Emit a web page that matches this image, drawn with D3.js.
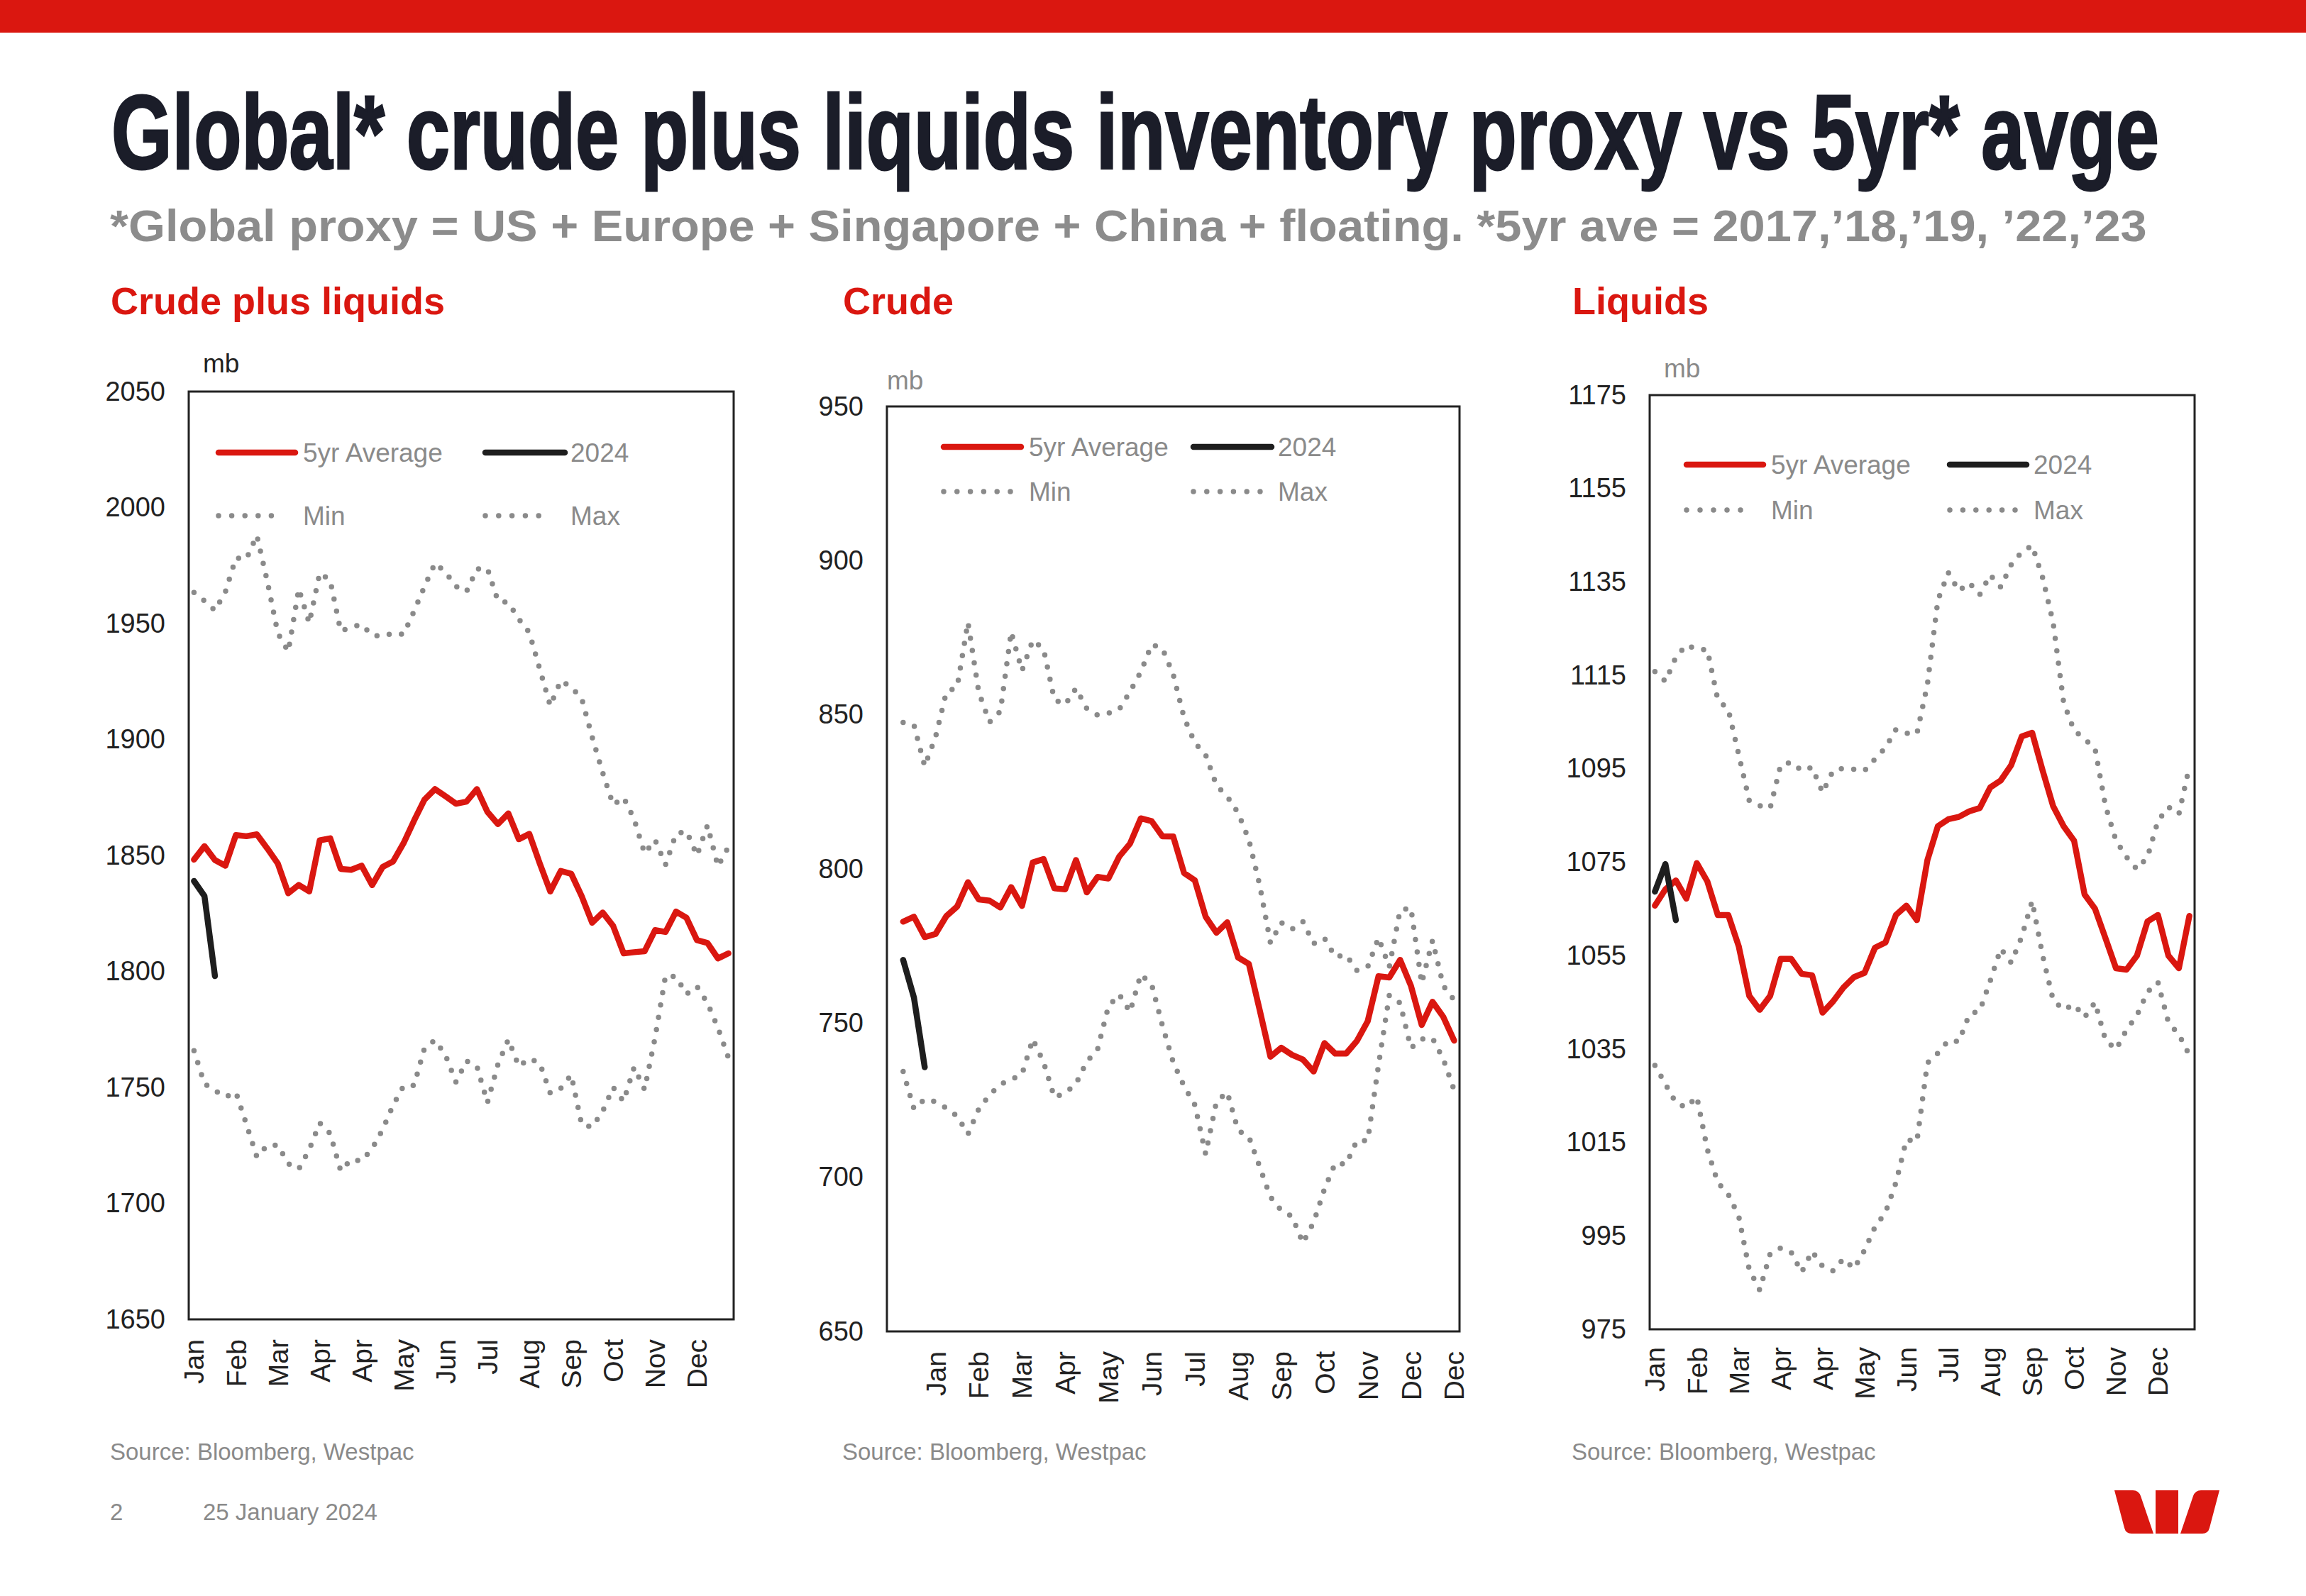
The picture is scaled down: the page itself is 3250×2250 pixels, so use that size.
<!DOCTYPE html>
<html lang="en">
<head>
<meta charset="UTF-8">
<title>Global crude plus liquids inventory proxy vs 5yr avge</title>
<script src="https://cdn.jsdelivr.net/npm/d3@7"></script>
<style>
  body { margin: 0; background: #fff; }
  svg { display: block; font-family: "Liberation Sans", Arial, sans-serif; }
  .line { fill: none; stroke-linejoin: round; stroke-linecap: round; }
</style>
</head>
<body>
<svg id="chart" width="3250" height="2250"></svg>
<script>
// ---- data (mb, weekly) ----
// Crude plus liquids
const totalAvg = [1848.2, 1854, 1848, 1845.6, 1858.8, 1858.3, 1859.1, 1853, 1846.5, 1833.7, 1837.3, 1834.5, 1856.5, 1857.4, 1844.2, 1843.8, 1845.6, 1837.2, 1845, 1847.4, 1855.3, 1865, 1874.1, 1878.6, 1875.5, 1872.3, 1873.2, 1878.6, 1868.8, 1863.5, 1868.1, 1857, 1859.3, 1846.5, 1834.5, 1843.3, 1842.1, 1832.4, 1821, 1825.4, 1819.6, 1807.8, 1808.3, 1808.7, 1817.8, 1817, 1825.8, 1823.1, 1813.5, 1812.3, 1805.6, 1807.8];
const totalMax = [1963.4, 1959.8, 1955.6, 1963.7, 1978.3, 1977.8, 1988, 1968.1, 1945.8, 1937.9, 1964.9, 1950.2, 1971.8, 1968.6, 1946.7, 1948.4, 1949.6, 1944.9, 1944.5, 1945.8, 1945.3, 1955.3, 1966, 1976, 1972.1, 1966, 1963.7, 1973.5, 1973.7, 1959.8, 1959, 1951.9, 1946.1, 1930.3, 1914.5, 1925.4, 1922.6, 1917.7, 1901, 1885.7, 1871.8, 1875, 1865.6, 1850.9, 1856.7, 1846, 1859.3, 1860.5, 1850, 1863, 1845.3, 1853.7];
const totalMin = [1765.8, 1751.6, 1748.6, 1745.9, 1747.9, 1734.1, 1720, 1725, 1725.1, 1717.1, 1714.8, 1723.2, 1734.7, 1730.1, 1714, 1718.9, 1718.3, 1723.6, 1731.8, 1742.3, 1750.6, 1750.9, 1767, 1770.4, 1763.9, 1752.3, 1761.4, 1759.1, 1743.4, 1759.8, 1770.7, 1759.1, 1762.4, 1760.5, 1747.5, 1749.6, 1755.4, 1733.9, 1732.9, 1739.7, 1750, 1744, 1758.7, 1749.1, 1771.4, 1798.2, 1797.7, 1790.2, 1793.5, 1786.4, 1775.7, 1762.8];
const total2024 = [1839, 1832.5, 1798];

// Crude (53 week slots, data starts at slot 1)
const crudeAvg = [782.9, 784.5, 777.9, 778.9, 784.7, 787.8, 795.7, 790.1, 789.7, 787.5, 794.1, 788, 802.1, 803.2, 793.7, 793.4, 802.9, 792.4, 797.4, 796.9, 804, 808.2, 816.4, 815.5, 810.6, 810.5, 798.7, 796.3, 784.5, 779.3, 782.7, 771.3, 769.2, 754.3, 739.1, 742, 739.7, 738.2, 734.3, 743.5, 740.1, 740.1, 744.2, 750.6, 765.2, 764.8, 770.5, 762.1, 749.4, 756.9, 752, 744.3];
const crudeMax = [847.5, 846.7, 833.3, 842.8, 857.3, 859, 880, 857.3, 847.6, 851.1, 876.9, 864.3, 874.2, 871.3, 854.9, 853.3, 858.6, 852, 849.9, 850.5, 851.7, 857.5, 863.9, 872.8, 871.5, 863.1, 849.1, 840.9, 837, 827.1, 823.5, 818.2, 809.5, 794.8, 776, 782.6, 780.5, 782.9, 775.8, 777.5, 771.5, 772.1, 767.1, 768.2, 777.7, 768.2, 786.6, 787.4, 762.9, 776.8, 762.1, 757.5];
const crudeMin = [734.3, 722.2, 725.3, 724.5, 722.4, 719.8, 714, 722.1, 726.7, 730.1, 731.7, 733.4, 744.8, 737.3, 725.9, 727.3, 730.3, 737.5, 741.5, 755.4, 759.3, 753.6, 765.8, 762.6, 749.2, 737.3, 729.6, 723.5, 707.5, 724.5, 727.6, 715.2, 713.2, 703.4, 693.6, 689.2, 687.3, 678.7, 685.4, 696.2, 704.6, 704.2, 711.9, 711.9, 736.4, 759, 756.5, 741.9, 744.8, 745.1, 738.3, 728.3];
const crude2024 = [770.5, 758.3, 735.7];

// Liquids
const liqAvg = [1065.7, 1069.2, 1071.1, 1067.2, 1074.8, 1070.9, 1063.7, 1063.7, 1057, 1046.4, 1043.4, 1046.4, 1054.3, 1054.3, 1051.1, 1050.8, 1042.8, 1045.2, 1048.2, 1050.4, 1051.3, 1056.7, 1057.8, 1063.7, 1065.7, 1062.6, 1075.4, 1082.7, 1084.2, 1084.7, 1085.9, 1086.6, 1091, 1092.5, 1095.8, 1101.9, 1102.7, 1094.6, 1087, 1082.7, 1079.6, 1068.1, 1065, 1058.7, 1052.3, 1052, 1055, 1062.3, 1063.7, 1055, 1052.3, 1063.5];
const liqMax = [1115.8, 1113.7, 1118.9, 1121.5, 1120.6, 1120.5, 1109.8, 1107.7, 1098, 1088.2, 1087.1, 1086.6, 1095.8, 1096.4, 1094.6, 1095.3, 1089.9, 1094.6, 1095.1, 1094.9, 1094.6, 1097.1, 1099.5, 1103.4, 1102.6, 1102.5, 1113, 1131.1, 1137, 1133.1, 1134.8, 1132.3, 1136.5, 1133.9, 1138.7, 1141.4, 1142.8, 1135.9, 1126.3, 1109.2, 1103.2, 1101.4, 1099.3, 1087, 1079.6, 1076.1, 1073.5, 1076.1, 1083.8, 1086.8, 1085.3, 1095.5];
const liqMin = [1031.5, 1027.5, 1023.5, 1022.5, 1024.8, 1013.5, 1006.4, 1003.9, 999.2, 987.8, 983.4, 991.2, 992.4, 991.5, 987.2, 991.7, 988.5, 987.5, 990.1, 988, 991.9, 996.9, 1000, 1006.4, 1015.6, 1015.2, 1032, 1034.1, 1036.8, 1036.6, 1042.4, 1043.2, 1049.6, 1056.5, 1053.5, 1059, 1066.7, 1055, 1045.5, 1043.4, 1044.5, 1041.8, 1045, 1036.9, 1034.9, 1039.1, 1042.2, 1047.2, 1049.3, 1040.7, 1038.1, 1033.7];
const liq2024 = [1068.7, 1074.6, 1062.6];

// x tick labels (every 4th week)
const monthsA = ["Jan", "Feb", "Mar", "Apr", "Apr", "May", "Jun", "Jul", "Aug", "Sep", "Oct", "Nov", "Dec"];
const monthsB = ["Jan", "Feb", "Mar", "Apr", "May", "Jun", "Jul", "Aug", "Sep", "Oct", "Nov", "Dec", "Dec"];

const RED = "#da1710", BLACK = "#1e1e1e", GREY = "#8a8a8a", TXT = "#222";

const svg = d3.select("#chart");

// squeeze a text horizontally to a given width (condensed headline look)
function fitText(sel, x, y, width) {
    const w = sel.node().getComputedTextLength();
    sel.attr("transform", "translate(" + x + "," + y + ") scale(" + (width / w) + ",1)");
}

// top bar + headings
svg.append("rect").attr("x", 0).attr("y", 0).attr("width", 3250).attr("height", 46).attr("fill", RED);

const title = svg.append("text")
    .style("font-size", "149px").style("font-weight", 700)
    .attr("fill", "#1b1d29").attr("stroke", "#1b1d29").attr("stroke-width", 3)
    .text("Global* crude plus liquids inventory proxy vs 5yr* avge");
fitText(title, 157, 238, 2886);

const sub = svg.append("text")
    .style("font-size", "62px").style("font-weight", 700)
    .attr("fill", "#8c8c8c")
    .text("*Global proxy = US + Europe + Singapore + China + floating. *5yr ave = 2017,\u201918,\u201919, \u201922,\u201923");
fitText(sub, 155, 340, 2871);

const panels = [
    {
        title: "Crude plus liquids", left: 156,
        box: [266, 1034, 552, 1860], domain: [1650, 2050], ticks: d3.range(1650, 2051, 50),
        slots: 52, start: 0, labelIdx: d3.range(0, 52, 4), labels: monthsA,
        avg: totalAvg, max: totalMax, min: totalMin, ytd: total2024,
        mb: [286, 525, TXT],
        leg: { x1: 308, x2: 416, tx: 427, bx1: 684, bx2: 796, btx: 804, y1: 638, y2: 727, dx2: 401, ddx2: 778 },
        gap: 28
    },
    {
        title: "Crude", left: 1188,
        box: [1250, 2057, 573, 1877], domain: [650, 950], ticks: d3.range(650, 951, 50),
        slots: 53, start: 1, labelIdx: d3.range(4, 53, 4), labels: monthsB,
        avg: crudeAvg, max: crudeMax, min: crudeMin, ytd: crude2024,
        mb: [1250, 549, GREY],
        leg: { x1: 1330, x2: 1439, tx: 1450, bx1: 1682, bx2: 1792, btx: 1801, y1: 630, y2: 693, dx2: 1424, ddx2: 1776 },
        gap: 28
    },
    {
        title: "Liquids", left: 2216,
        box: [2325, 3093, 557, 1874], domain: [975, 1175], ticks: d3.range(975, 1176, 20),
        slots: 52, start: 0, labelIdx: d3.range(0, 52, 4), labels: monthsA,
        avg: liqAvg, max: liqMax, min: liqMin, ytd: liq2024,
        mb: [2345, 532, GREY],
        leg: { x1: 2377, x2: 2485, tx: 2496, bx1: 2748, bx2: 2856, btx: 2866, y1: 655, y2: 719, dx2: 2472, ddx2: 2840 },
        gap: 25
    }
];

panels.forEach(function(p) {
    const [x0, x1, y0, y1] = p.box;
    const g = svg.append("g");

    const x = d3.scaleBand().domain(d3.range(p.slots)).range([x0, x1]);
    const xc = function(i) { return x(i) + x.bandwidth() / 2; };
    const y = d3.scaleLinear().domain(p.domain).range([y1, y0]);

    // panel title
    g.append("text").attr("x", p.left).attr("y", 443)
        .style("font-size", "54px").style("font-weight", 700).attr("fill", RED)
        .text(p.title);

    // unit
    g.append("text").attr("x", p.mb[0]).attr("y", p.mb[1])
        .style("font-size", "37px").attr("fill", p.mb[2]).text("mb");

    // y axis labels
    const ya = g.append("g").attr("transform", "translate(" + x0 + ",0)")
        .call(d3.axisLeft(y).tickValues(p.ticks).tickSize(0).tickPadding(33).tickFormat(d3.format("d")));
    ya.select(".domain").remove();
    ya.selectAll("text").style("font-size", "38px").style("font-family", "'Liberation Sans', Arial, sans-serif").attr("fill", TXT);

    // x axis labels
    const xa = g.append("g").attr("transform", "translate(0," + y1 + ")")
        .call(d3.axisBottom(x).tickValues(p.labelIdx).tickSize(0)
            .tickFormat(function(d, i) { return p.labels[i]; }));
    xa.select(".domain").remove();
    xa.selectAll("text")
        .attr("transform", "rotate(-90)")
        .attr("x", -p.gap).attr("y", 0).attr("dy", "0.36em")
        .style("text-anchor", "end")
        .style("font-size", "39px").style("font-family", "'Liberation Sans', Arial, sans-serif")
        .attr("fill", TXT);

    const line = d3.line()
        .defined(function(d) { return d != null; })
        .x(function(d, i) { return xc(i + p.start); })
        .y(function(d) { return y(d); });

    // dotted min / max
    [p.max, p.min].forEach(function(s) {
        g.append("path").datum(s).attr("class", "line")
            .attr("stroke", GREY).attr("stroke-width", 7.5)
            .attr("stroke-dasharray", "0 17.6")
            .attr("d", line);
    });
    g.append("path").datum(p.avg).attr("class", "line")
        .attr("stroke", RED).attr("stroke-width", 8.5).attr("d", line);
    g.append("path").datum(p.ytd).attr("class", "line")
        .attr("stroke", BLACK).attr("stroke-width", 8.5).attr("d", line);

    // frame
    g.append("rect").attr("x", x0).attr("y", y0).attr("width", x1 - x0).attr("height", y1 - y0)
        .attr("fill", "none").attr("stroke", "#222").attr("stroke-width", 3);

    // legend
    const L = p.leg;
    const lg = g.append("g").style("font-size", "37px").attr("fill", GREY);
    lg.append("line").attr("x1", L.x1).attr("x2", L.x2).attr("y1", L.y1).attr("y2", L.y1)
        .attr("stroke", RED).attr("stroke-width", 8.5).attr("stroke-linecap", "round");
    lg.append("text").attr("x", L.tx).attr("y", L.y1 + 13).text("5yr Average");
    lg.append("line").attr("x1", L.bx1).attr("x2", L.bx2).attr("y1", L.y1).attr("y2", L.y1)
        .attr("stroke", BLACK).attr("stroke-width", 8.5).attr("stroke-linecap", "round");
    lg.append("text").attr("x", L.btx).attr("y", L.y1 + 13).text("2024");
    lg.append("line").attr("x1", L.x1).attr("x2", L.dx2).attr("y1", L.y2).attr("y2", L.y2)
        .attr("stroke", GREY).attr("stroke-width", 7.5).attr("stroke-linecap", "round")
        .attr("stroke-dasharray", "0 " + ((L.dx2 - L.x1) / 5));
    lg.append("text").attr("x", L.tx).attr("y", L.y2 + 13).text("Min");
    lg.append("line").attr("x1", L.bx1).attr("x2", L.ddx2).attr("y1", L.y2).attr("y2", L.y2)
        .attr("stroke", GREY).attr("stroke-width", 7.5).attr("stroke-linecap", "round")
        .attr("stroke-dasharray", "0 " + ((L.ddx2 - L.bx1) / 5));
    lg.append("text").attr("x", L.btx).attr("y", L.y2 + 13).text("Max");

    // source
    g.append("text").attr("x", p.left - 1).attr("y", 2058)
        .style("font-size", "33px").attr("fill", GREY)
        .text("Source: Bloomberg, Westpac");
});

// footer
svg.append("text").attr("x", 155).attr("y", 2143).style("font-size", "33px").attr("fill", GREY).text("2");
svg.append("text").attr("x", 286).attr("y", 2143).style("font-size", "33px").attr("fill", GREY).text("25 January 2024");

// logo
const logo = svg.append("g").attr("fill", RED);
logo.append("path").attr("d", "M2980,2101 L3006,2101 Q3014,2101 3017,2109 L3035,2162 L3004,2162 Q2996,2162 2994,2154 Z");
logo.append("rect").attr("x", 3038).attr("y", 2101).attr("width", 32).attr("height", 61);
logo.append("path").attr("d", "M3128,2101 L3102,2101 Q3094,2101 3091,2109 L3073,2162 L3104,2162 Q3112,2162 3114,2154 Z");
</script>
</body>
</html>
